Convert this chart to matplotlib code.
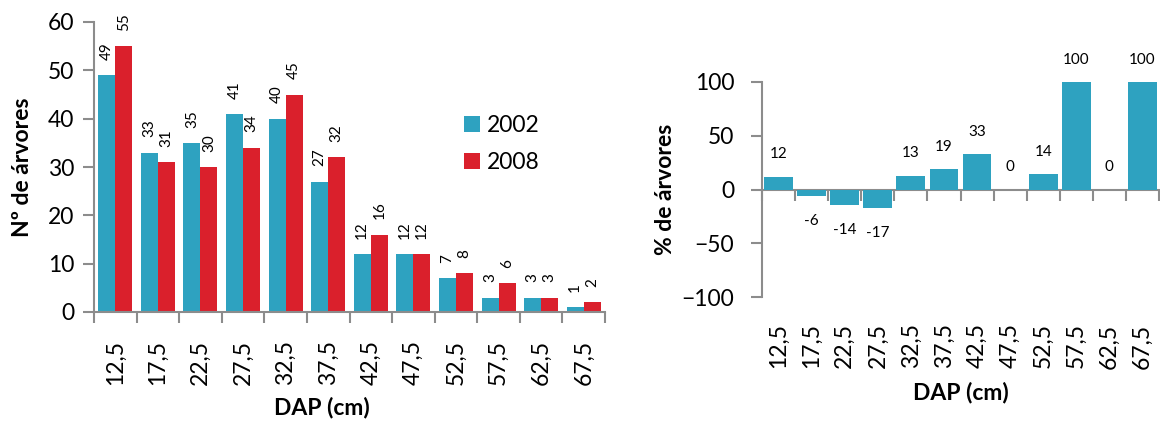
import matplotlib
matplotlib.use("Agg")
import matplotlib.pyplot as plt
import numpy as np

plt.rcParams['font.family'] = ['Lato', 'DejaVu Sans']

# ---- data ----
dap_classes = ["12,5", "17,5", "22,5", "27,5", "32,5", "37,5",
               "42,5", "47,5", "52,5", "57,5", "62,5", "67,5"]
trees_2002 = [49, 33, 35, 41, 40, 27, 12, 12, 7, 3, 3, 1]
trees_2008 = [55, 31, 30, 34, 45, 32, 16, 12, 8, 6, 3, 2]
pct_change = [12, -6, -14, -17, 13, 19, 33, 0, 14, 100, 0, 100]
series_names = ["2002", "2008"]

TEAL = "#2EA2C0"
RED = "#DA202C"
GRAY = "#8C8C8C"
TICK_FS = 16.5
LAB_FS = 16.5
DATA_FS = 11

fig = plt.figure(figsize=(11.6, 4.21), dpi=100)

# ================= left chart =================
ax1 = fig.add_axes([94/1160, (421-312)/421, 511/1160, 290/421])
x = np.arange(len(dap_classes))
w = 0.4
b1 = ax1.bar(x - w/2, trees_2002, w, color=TEAL, label=series_names[0])
b2 = ax1.bar(x + w/2, trees_2008, w, color=RED, label=series_names[1])
for bars, vals in ((b1, trees_2002), (b2, trees_2008)):
    for rect, v in zip(bars, vals):
        ax1.annotate(str(v), (rect.get_x() + rect.get_width()/2, v),
                     xytext=(0, 11), textcoords="offset points",
                     rotation=90, ha="center", va="bottom", fontsize=DATA_FS)

ax1.set_xlim(-0.5, len(dap_classes) - 0.5)
ax1.set_ylim(0, 60)
ax1.set_yticks(range(0, 61, 10))
ax1.set_xticks(x)
ax1.set_xticklabels(dap_classes, rotation=90, fontsize=TICK_FS)
ax1.set_xticks(np.arange(-0.5, len(dap_classes)), minor=True)
ax1.tick_params(axis="x", which="major", length=0, pad=20)
ax1.tick_params(axis="x", which="minor", length=8, width=1.5, color=GRAY, direction="out")
ax1.tick_params(axis="y", length=8, width=1.5, color=GRAY, labelsize=TICK_FS, pad=6)
for s in ("top", "right"):
    ax1.spines[s].set_visible(False)
for s in ("left", "bottom"):
    ax1.spines[s].set_color(GRAY)
    ax1.spines[s].set_linewidth(1.5)
ax1.set_ylabel("Nº de árvores", fontsize=LAB_FS, fontweight="bold", va="center")
ax1.yaxis.set_label_coords(-0.139, 0.5)
ax1.set_xlabel("DAP (cm)", fontsize=LAB_FS, fontweight="bold")
ax1.xaxis.set_label_coords(0.446, -0.331)
ax1.xaxis.label.set_va("center")
leg = ax1.legend(loc="upper left", bbox_to_anchor=(0.724, 0.68), frameon=False,
                 fontsize=TICK_FS, handlelength=0.7, handleheight=0.7,
                 handletextpad=0.3, labelspacing=0.7, borderpad=0,
                 borderaxespad=0)

# ================= right chart =================
ax2 = fig.add_axes([762/1160, (421-297)/421, 397/1160, 215/421])
ax2.bar(x, pct_change, 0.87, color=TEAL)
for xi, v in zip(x, pct_change):
    off = 16 if v >= 0 else -18
    ax2.annotate(str(v), (xi, v), xytext=(0, off), textcoords="offset points",
                 ha="center", va="center", fontsize=DATA_FS)
ax2.set_xlim(-0.5, len(dap_classes) - 0.5)
ax2.set_ylim(-100, 100)
ax2.set_yticks([-100, -50, 0, 50, 100])
ax2.set_xticks(x)
ax2.set_xticklabels(dap_classes, rotation=90, fontsize=TICK_FS)
ax2.tick_params(axis="x", which="major", length=0, pad=19)
ax2.tick_params(axis="y", length=8, width=1.5, color=GRAY, labelsize=TICK_FS, pad=12)
for s in ("top", "right", "bottom"):
    ax2.spines[s].set_visible(False)
ax2.spines["left"].set_color(GRAY)
ax2.spines["left"].set_linewidth(1.5)

sec = ax2.secondary_xaxis(0.5)
sec.set_alignment("bottom")
sec.set_xticks(np.arange(-0.5, len(dap_classes)))
sec.set_xticklabels([])
sec.tick_params(axis="x", length=8, width=1.5, color=GRAY, direction="out")
for s in sec.spines.values():
    s.set_color(GRAY)
    s.set_linewidth(1.5)

ax2.set_ylabel("% de árvores", fontsize=LAB_FS, fontweight="bold", va="center")
ax2.yaxis.set_label_coords((665 - 762) / 397, 0.5)
ax2.set_xlabel("DAP (cm)", fontsize=LAB_FS, fontweight="bold")
ax2.xaxis.set_label_coords(0.5, -0.442)
ax2.xaxis.label.set_va("center")

fig.savefig("out.png", dpi=100)
